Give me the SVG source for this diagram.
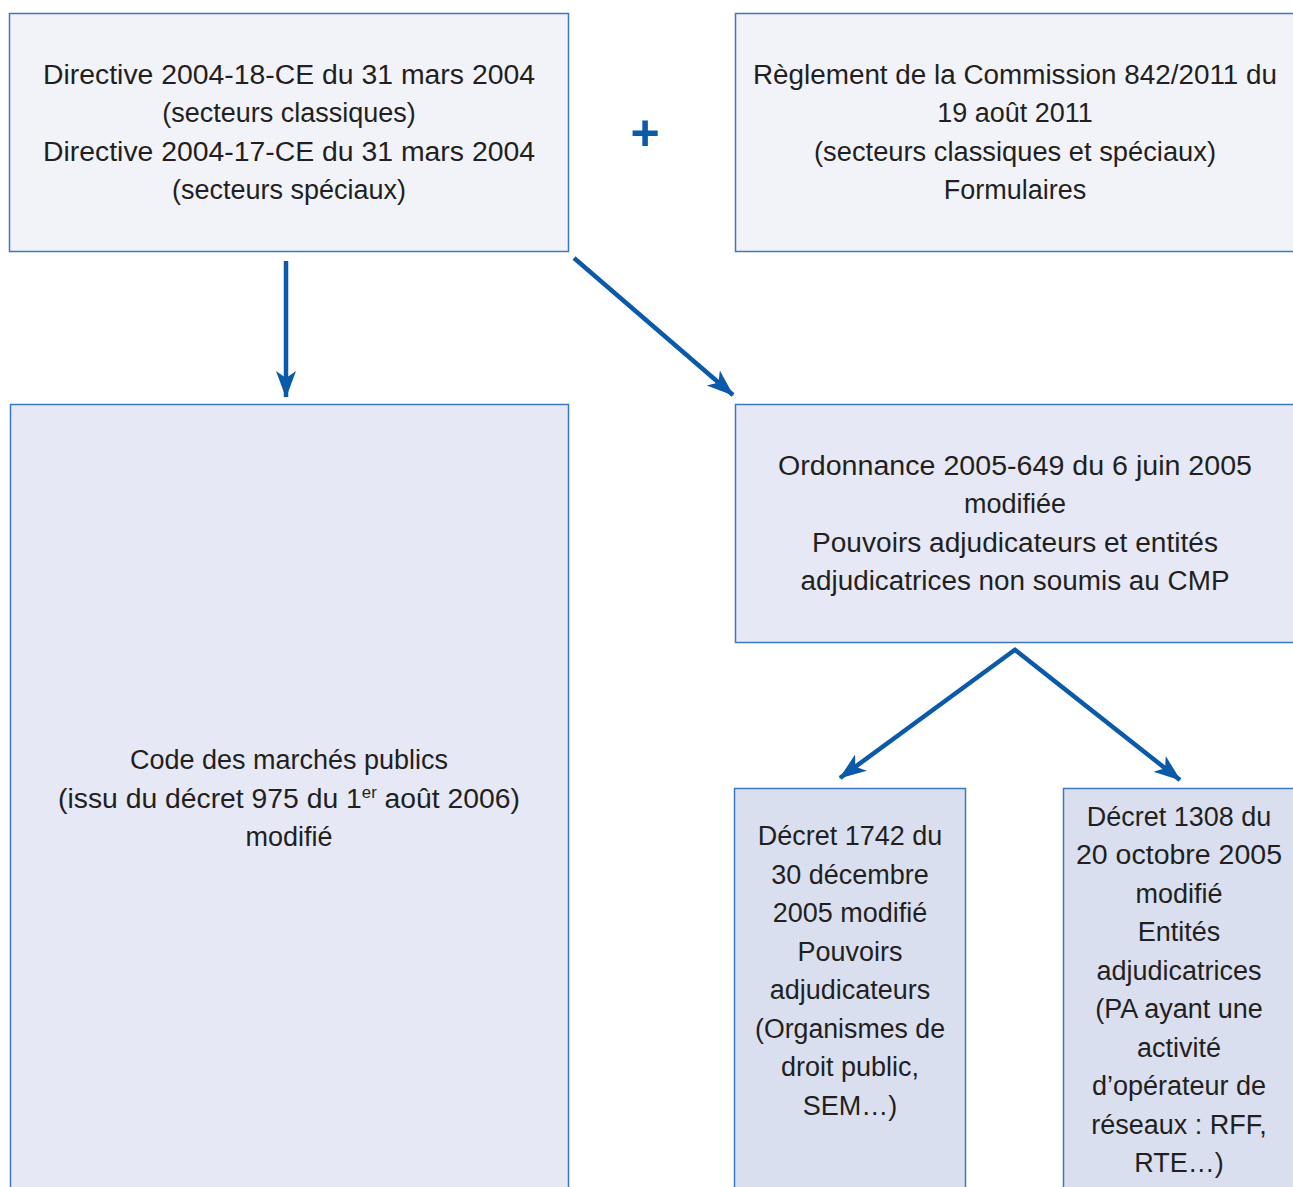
<svg xmlns="http://www.w3.org/2000/svg" width="1293" height="1187" viewBox="0 0 1293 1187">
<style>
.box{stroke:#3b78c0;stroke-width:1.5}
.b1{fill:#f2f3f9}
.b2{fill:#e6e9f5}
.b3{fill:#dadff0}
text{font-family:"Liberation Sans","Noto Sans",sans-serif;font-size:27px;fill:#231f20;text-anchor:middle}
.conn{stroke:#0b5aa9;stroke-width:4.5;fill:none}
</style>
<defs>
<marker id="ah" markerUnits="userSpaceOnUse" markerWidth="30" markerHeight="24" refX="26" refY="10" orient="auto" viewBox="0 0 30 20">
<path d="M0,0 L27,10 L0,20 L7,10 z" fill="#0b5aa9"/>
</marker>
</defs>
<rect width="1293" height="1187" fill="#ffffff"/>
<g id="connectors">
<line class="conn" x1="286" y1="261" x2="286" y2="397" marker-end="url(#ah)"/>
<line class="conn" x1="574" y1="258" x2="733" y2="395" marker-end="url(#ah)"/>
<line class="conn" x1="1016" y1="649" x2="840" y2="778" marker-end="url(#ah)"/>
<line class="conn" x1="1014" y1="649" x2="1180" y2="780" marker-end="url(#ah)"/>
</g>
<g id="n1">
<rect class="box b1" x="9.5" y="13.5" width="559" height="238"/>
<text x="289" y="84" textLength="492" lengthAdjust="spacingAndGlyphs">Directive 2004-18-CE du 31 mars 2004</text>
<text x="289" y="122">(secteurs classiques)</text>
<text x="289" y="161" textLength="492" lengthAdjust="spacingAndGlyphs">Directive 2004-17-CE du 31 mars 2004</text>
<text x="289" y="199">(secteurs spéciaux)</text>
</g>
<g id="plus">
<text x="645" y="150" style="font-size:50px;font-weight:bold;fill:#0b5aa9">+</text>
</g>
<g id="n2">
<rect class="box b1" x="735.5" y="13.5" width="560" height="238"/>
<text x="1015" y="84" textLength="524" lengthAdjust="spacingAndGlyphs">Règlement de la Commission 842/2011 du</text>
<text x="1015" y="122">19 août 2011</text>
<text x="1015" y="161" textLength="402" lengthAdjust="spacingAndGlyphs">(secteurs classiques et spéciaux)</text>
<text x="1015" y="199">Formulaires</text>
</g>
<g id="n3">
<rect class="box b2" x="10.5" y="404.5" width="558" height="790"/>
<text x="289" y="769">Code des marchés publics</text>
<text x="289" y="808" textLength="462" lengthAdjust="spacingAndGlyphs">(issu du décret 975 du 1<tspan dy="-10" style="font-size:16px">er</tspan><tspan dy="10"> août 2006)</tspan></text>
<text x="289" y="846">modifié</text>
</g>
<g id="n4">
<rect class="box b2" x="735.5" y="404.5" width="560" height="238"/>
<text x="1015" y="475" textLength="474" lengthAdjust="spacingAndGlyphs">Ordonnance 2005-649 du 6 juin 2005</text>
<text x="1015" y="513">modifiée</text>
<text x="1015" y="552" textLength="406" lengthAdjust="spacingAndGlyphs">Pouvoirs adjudicateurs et entités</text>
<text x="1015" y="590" textLength="429" lengthAdjust="spacingAndGlyphs">adjudicatrices non soumis au CMP</text>
</g>
<g id="n5">
<rect class="box b3" x="734.5" y="788.5" width="231" height="410"/>
<text x="850" y="845">Décret 1742 du</text>
<text x="850" y="884">30 décembre</text>
<text x="850" y="922">2005 modifié</text>
<text x="850" y="961">Pouvoirs</text>
<text x="850" y="999">adjudicateurs</text>
<text x="850" y="1038" textLength="190" lengthAdjust="spacingAndGlyphs">(Organismes de</text>
<text x="850" y="1076">droit public,</text>
<text x="850" y="1115">SEM…)</text>
</g>
<g id="n6">
<rect class="box b3" x="1063.5" y="788.5" width="240" height="410"/>
<text x="1179" y="826">Décret 1308 du</text>
<text x="1179" y="864" textLength="206" lengthAdjust="spacingAndGlyphs">20 octobre 2005</text>
<text x="1179" y="903">modifié</text>
<text x="1179" y="941">Entités</text>
<text x="1179" y="980">adjudicatrices</text>
<text x="1179" y="1018">(PA ayant une</text>
<text x="1179" y="1057">activité</text>
<text x="1179" y="1095">d’opérateur de</text>
<text x="1179" y="1134">réseaux : RFF,</text>
<text x="1179" y="1172">RTE…)</text>
</g>
</svg>
